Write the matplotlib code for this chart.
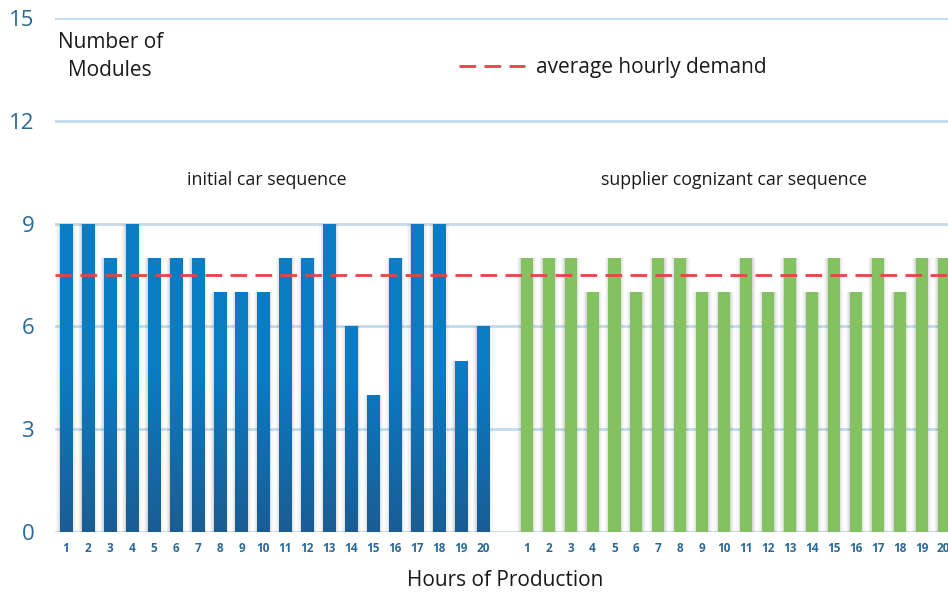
import matplotlib
matplotlib.use("Agg")
import matplotlib.pyplot as plt
import numpy as np
from matplotlib.colors import LinearSegmentedColormap

plt.rcParams['font.family'] = ['Open Sans', 'DejaVu Sans']

hours = list(range(1, 21))
initial_seq = [9, 9, 8, 9, 8, 8, 8, 7, 7, 7, 8, 8, 9, 6, 4, 8, 9, 9, 5, 6]
cognizant_seq = [8, 8, 8, 7, 8, 7, 8, 8, 7, 7, 8, 7, 8, 7, 8, 7, 8, 7, 8, 8]
avg_demand = 7.5
y_ticks = [0, 3, 6, 9, 12, 15]

fig = plt.figure(figsize=(9.48, 5.94), dpi=100)
ax = fig.add_axes([55/948, 62/594, 1 - 55/948, (532-18)/594])

x1 = np.array(hours, dtype=float)
x2 = np.array(hours, dtype=float) + 21
w = 0.55

# soft shadows
for sw, a in [(0.9, 0.05), (0.78, 0.07), (0.68, 0.10), (0.6, 0.12)]:
    ax.bar(x1, initial_seq, width=sw, color='#808080', alpha=a, zorder=1, linewidth=0)
    ax.bar(x2, cognizant_seq, width=sw, color='#808080', alpha=a, zorder=1, linewidth=0)

for y in y_ticks:
    ax.axhline(y, color='#c2dcee', lw=2, zorder=0)

blue_cmap = LinearSegmentedColormap.from_list('b', ['#1a5d94', '#0a7cc4', '#0a7dc6'])
grad = np.linspace(0, 1, 256).reshape(-1, 1)
bars1 = ax.bar(x1, initial_seq, width=w, color='#0b78bf', zorder=2, linewidth=0)
for b in bars1:
    x0 = b.get_x()
    im = ax.imshow(grad, cmap=blue_cmap, origin='lower', aspect='auto',
                   extent=[x0, x0 + b.get_width(), 0, 9.5], zorder=3,
                   vmin=0, vmax=1)
    im.set_clip_path(b)

ax.bar(x2, cognizant_seq, width=w, color='#84c160', zorder=3, linewidth=0)

ax.set_xlim(0.5, 41.2)
ax.set_ylim(0, 15)

line, = ax.plot([0.5, 41.2], [avg_demand, avg_demand], color='#e8424b', lw=2,
                dashes=(6, 3), zorder=4, label='average hourly demand')

ax.set_yticks(y_ticks)
ax.set_yticklabels([str(v) for v in y_ticks], fontsize=16, color='#2a6896')
ax.set_xticks(list(x1) + list(x2))
ax.set_xticklabels([str(h) for h in hours] * 2, fontsize=8.5, color='#2a6896',
                   fontweight='bold')
ax.tick_params(axis='y', length=0, pad=15)
ax.tick_params(axis='x', length=0, pad=7)
for s in ax.spines.values():
    s.set_visible(False)

fig.text(58/948, 1 - 42/594, 'Number of', fontsize=15, color='#1a1a1a', va='center')
fig.text(68/948, 1 - 70/594, 'Modules', fontsize=15, color='#1a1a1a', va='center')
fig.text(505/948, 1 - 580/594, 'Hours of Production', fontsize=15, color='#1a1a1a',
         ha='center', va='center')
fig.text(267/948, 1 - 180/594, 'initial car sequence', fontsize=12.8, color='#1a1a1a',
         ha='center', va='center')
fig.text(734/948, 1 - 180/594, 'supplier cognizant car sequence', fontsize=12.8,
         color='#1a1a1a', ha='center', va='center')

fig.legend(handles=[line], loc='center left', bbox_to_anchor=(440/948, 1 - 68/594),
           frameon=False, fontsize=15, handlelength=3.2, handletextpad=0.5,
           labelcolor='#1a1a1a')

fig.savefig('out.png', dpi=100)
